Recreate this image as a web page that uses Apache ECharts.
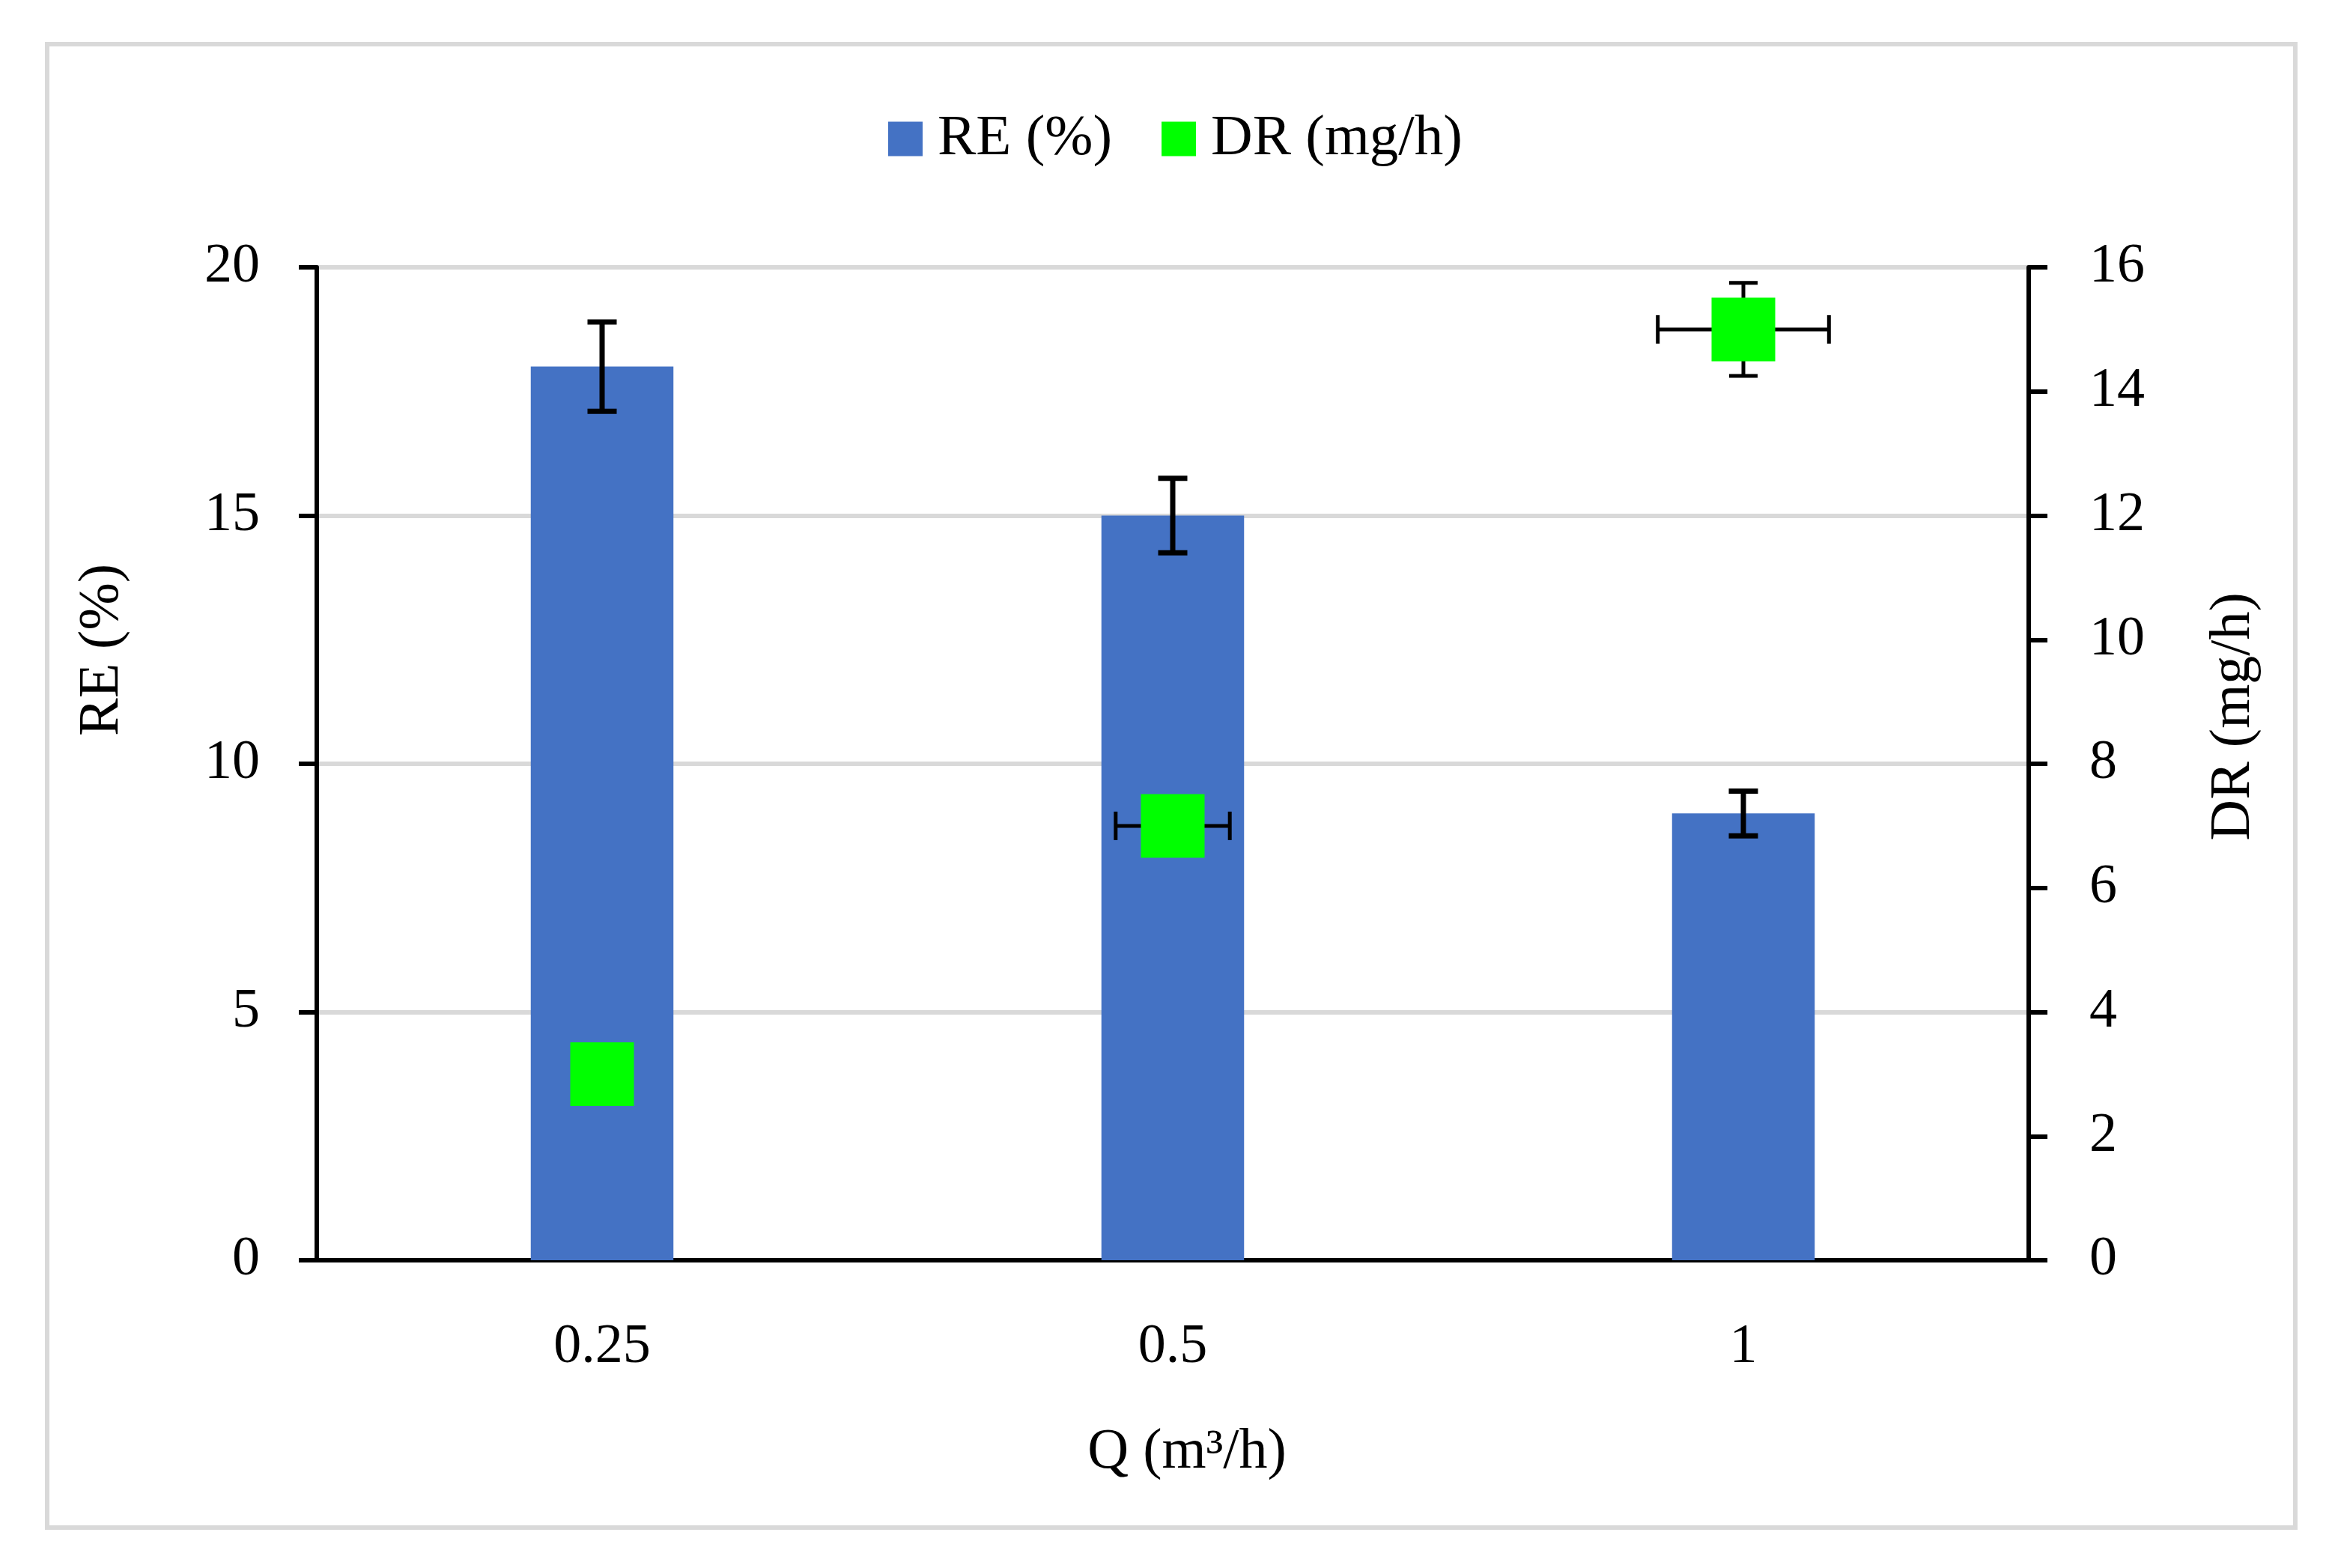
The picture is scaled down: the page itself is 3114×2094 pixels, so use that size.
<!DOCTYPE html>
<html>
<head>
<meta charset="utf-8">
<script src="https://cdn.jsdelivr.net/npm/echarts@6/dist/echarts.min.js"></script>
<style>
html,body{margin:0;padding:0;background:#fff;}
#chart{width:3114px;height:2094px;}
</style>
</head>
<body>
<div id="chart"></div>
<script>
const categories = ['0.25', '0.5', '1'];
const reValues = [18, 15, 9];
const reErrors = [0.9, 0.75, 0.45];
const drValues = [3, 7, 15];
const drYErrors = [0, 0, 0.75];
const drXErrors = [0, 0.1, 0.15];
const reAxisRange = [0, 20, 5];
const drAxisRange = [0, 16, 2];

const FONT = '"Liberation Serif", "Times New Roman", serif';
const FS = 74;

const chart = echarts.init(document.getElementById('chart'), null, {renderer: 'canvas'});

function vLine(x1, y1, x2, y2, w) {
  return {type: 'line', shape: {x1, y1, x2, y2}, style: {stroke: '#000', lineWidth: w}};
}

const option = {
  animation: false,
  backgroundColor: '#fff',
  textStyle: {fontFamily: FONT},
  grid: {left: 423, right: 405, top: 357, bottom: 411},
  legend: {
    data: ['RE (%)', 'DR (mg/h)'],
    left: 1186, top: 147, padding: 0,
    itemWidth: 46, itemHeight: 46, itemGap: 66,
    icon: 'rect',
    textStyle: {fontFamily: FONT, fontSize: 77, color: '#000', padding: [0, 0, 0, 15]}
  },
  xAxis: {
    type: 'category',
    data: categories,
    axisLine: {lineStyle: {color: '#000', width: 6}},
    axisTick: {show: false},
    axisLabel: {fontFamily: FONT, fontSize: FS, color: '#000', margin: 80}
  },
  yAxis: [
    {
      type: 'value', min: reAxisRange[0], max: reAxisRange[1], interval: reAxisRange[2],
      axisLine: {show: true, lineStyle: {color: '#000', width: 6}},
      axisTick: {show: true, length: 24, lineStyle: {color: '#000', width: 6}},
      axisLabel: {fontFamily: FONT, fontSize: FS, color: '#000', margin: 76},
      splitLine: {show: true, lineStyle: {color: '#d9d9d9', width: 6}}
    },
    {
      type: 'value', min: drAxisRange[0], max: drAxisRange[1], interval: drAxisRange[2],
      position: 'right',
      axisLine: {show: true, lineStyle: {color: '#000', width: 6}},
      axisTick: {show: true, length: 25, lineStyle: {color: '#000', width: 6}},
      axisLabel: {fontFamily: FONT, fontSize: FS, color: '#000', margin: 81},
      splitLine: {show: false}
    }
  ],
  series: [
    {
      name: 'RE (%)', type: 'bar', yAxisIndex: 0, barWidth: '25%',
      itemStyle: {color: '#4472c4'}, z: 2,
      data: reValues
    },
    {
      name: 'RE error', type: 'custom', yAxisIndex: 0, z: 3,
      data: categories.map((c, i) => [i, reValues[i], reErrors[i]]),
      renderItem: function (params, api) {
        const i = api.value(0), v = api.value(1), e = api.value(2);
        const top = api.coord([i, v + e]);
        const bot = api.coord([i, v - e]);
        const cap = 19.5, w = 7;
        return {type: 'group', children: [
          vLine(top[0], top[1], bot[0], bot[1], w),
          vLine(top[0] - cap, top[1], top[0] + cap, top[1], w),
          vLine(bot[0] - cap, bot[1], bot[0] + cap, bot[1], w)
        ]};
      }
    },
    {
      name: 'DR error', type: 'custom', yAxisIndex: 1, z: 3,
      data: categories.map((c, i) => [i, drValues[i], drYErrors[i], drXErrors[i]]),
      renderItem: function (params, api) {
        const i = api.value(0), v = api.value(1), ey = api.value(2), ex = api.value(3);
        const c = api.coord([i, v]);
        const band = api.size([1, 0])[0];
        const cap = 19, w = 5;
        const children = [];
        if (ey > 0) {
          const t = api.coord([i, v + ey]), b = api.coord([i, v - ey]);
          children.push(vLine(c[0], t[1], c[0], b[1], w));
          children.push(vLine(c[0] - cap, t[1], c[0] + cap, t[1], w));
          children.push(vLine(c[0] - cap, b[1], c[0] + cap, b[1], w));
        }
        if (ex > 0) {
          const l = c[0] - ex * band, r = c[0] + ex * band;
          children.push(vLine(l, c[1], r, c[1], w));
          children.push(vLine(l, c[1] - cap, l, c[1] + cap, w));
          children.push(vLine(r, c[1] - cap, r, c[1] + cap, w));
        }
        return {type: 'group', children};
      }
    },
    {
      name: 'DR (mg/h)', type: 'scatter', yAxisIndex: 1, z: 4,
      symbol: 'rect', symbolSize: 85,
      itemStyle: {color: '#00ff00', opacity: 1},
      data: drValues
    }
  ],
  graphic: [
    {type: 'rect', z: -1, silent: true,
     shape: {x: 63, y: 59, width: 3002, height: 1981},
     style: {fill: 'none', stroke: '#d9d9d9', lineWidth: 6}},
    {type: 'text', x: 137, y: 868, rotation: Math.PI / 2,
     style: {text: 'RE (%)', fill: '#000', font: '76px ' + FONT, align: 'center', verticalAlign: 'middle'}},
    {type: 'text', x: 2983, y: 957, rotation: Math.PI / 2,
     style: {text: 'DR (mg/h)', fill: '#000', font: '76px ' + FONT, align: 'center', verticalAlign: 'middle'}},
    {type: 'text', x: 1585, y: 1940,
     style: {text: 'Q (m³/h)', fill: '#000', font: '76px ' + FONT, align: 'center', verticalAlign: 'middle'}}
  ]
};
chart.setOption(option);
</script>
</body>
</html>
